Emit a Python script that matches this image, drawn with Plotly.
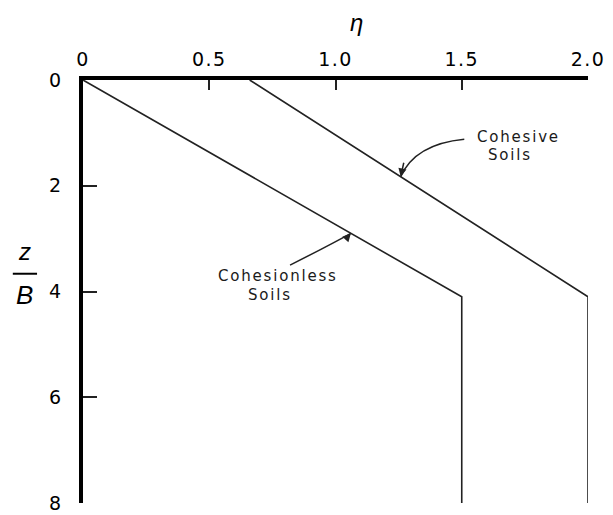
import plotly.graph_objects as go

# Depth ratio z/B and the correction factor eta for each soil type
depth = [0, 4.1, 8]
eta_cohesionless = [0, 1.5, 1.5]
eta_cohesive = [0.66, 2.0, 2.0]

x_ticks = [0, 0.5, 1.0, 1.5, 2.0]
x_tick_labels = ["0", "0.5", "1.0", "1.5", "2.0"]
y_ticks = [0, 2, 4, 6, 8]
y_tick_labels = ["0", "2", "4", "6", "8"]

line_color = "#222222"
font_family = "DejaVu Sans, Arial, sans-serif"


def spaced(text, px):
    """Wrap text in a span with extra letter spacing."""
    return f'<span style="letter-spacing:{px}px">{text}</span>'


fig = go.Figure()
for xs in (eta_cohesionless, eta_cohesive):
    fig.add_trace(go.Scatter(
        x=xs, y=depth, mode="lines",
        line=dict(color=line_color, width=1.6),
        cliponaxis=False, showlegend=False, hoverinfo="skip",
    ))

# Curved leader lines from the labels to the curves (quadratic Bezier paths)
leaders = [
    # (start x, start y, control x, control y, tip depth, curve)
    (0.82, 3.50, 0.97, 3.14, 2.90, eta_cohesionless),
    (1.51, 1.12, 1.315, 1.21, 1.83, eta_cohesive),
]
for sx, sy, cx, cy, tip_y, xs in leaders:
    # tip lies on the sloping segment of the curve
    tip_x = xs[0] + (xs[1] - xs[0]) * tip_y / depth[1]
    fig.add_shape(
        type="path",
        path=f"M {sx},{sy} Q {cx},{cy} {tip_x},{tip_y}",
        line=dict(color=line_color, width=1.5),
        xref="x", yref="y",
    )
    fig.add_annotation(
        x=tip_x, y=tip_y, xref="x", yref="y",
        ax=(cx - tip_x) * 60, ay=(cy - tip_y) * 25,
        axref="pixel", ayref="pixel",
        text="", showarrow=True, arrowhead=2, arrowsize=1.1,
        arrowwidth=1.5, arrowcolor=line_color, standoff=0,
    )

label_font = dict(family=font_family, size=15, color="#1a1a1a")
labels = [
    ("Cohesionless", 0.772, 3.70),
    ("Soils", 0.74, 4.07),
    ("Cohesive", 1.723, 1.08),
    ("Soils", 1.69, 1.42),
]
for text, lx, ly in labels:
    fig.add_annotation(x=lx, y=ly, xref="x", yref="y", text=spaced(text, 1.8),
                       showarrow=False, font=label_font,
                       xanchor="center", yanchor="middle")

# Axis titles: eta on top, z/B as a stacked fraction on the left
title_font = dict(family="Liberation Sans, Arial", size=24, color="black")
fig.add_annotation(x=0.541, y=1.136, xref="paper", yref="paper", text="<i>η</i>",
                   showarrow=False, font=title_font, xanchor="center", yanchor="middle")
fig.add_annotation(x=-0.115, y=0.594, xref="paper", yref="paper", text="<i>z</i>",
                   showarrow=False, font=title_font, xanchor="center", yanchor="middle")
fig.add_annotation(x=-0.115, y=0.492, xref="paper", yref="paper", text="<i>B</i>",
                   showarrow=False, font=dict(family="Liberation Sans, Arial", size=26, color="black"),
                   xanchor="center", yanchor="middle")
fig.add_shape(type="line", xref="paper", yref="paper",
              x0=-0.139, x1=-0.091, y0=0.542, y1=0.542,
              line=dict(color="black", width=2))

tick_font = dict(family=font_family, size=19, color="black")
fig.update_xaxes(
    range=[0, 2], side="top", tickvals=x_ticks,
    ticktext=[spaced(t, 1.5) for t in x_tick_labels],
    showline=True, linewidth=3.5, linecolor="black", mirror=False,
    ticks="inside", ticklen=10, tickwidth=1.5, tickcolor="#222222",
    showgrid=False, zeroline=False, tickfont=tick_font,
    ticklabelstandoff=3, ticklabeloverflow="allow", automargin=False,
)
fig.update_yaxes(
    range=[8, 0], tickvals=y_ticks, ticktext=y_tick_labels,
    showline=True, linewidth=4, linecolor="black", mirror=False,
    ticks="inside", ticklen=14, tickwidth=1.5, tickcolor="#222222",
    showgrid=False, zeroline=False, tickfont=tick_font,
    ticklabelstandoff=14, ticklabeloverflow="allow", automargin=False,
)
fig.update_layout(
    width=613, height=515,
    margin=dict(l=83, r=25, t=80, b=12),
    plot_bgcolor="white", paper_bgcolor="white",
)

fig.write_html("out.html")
